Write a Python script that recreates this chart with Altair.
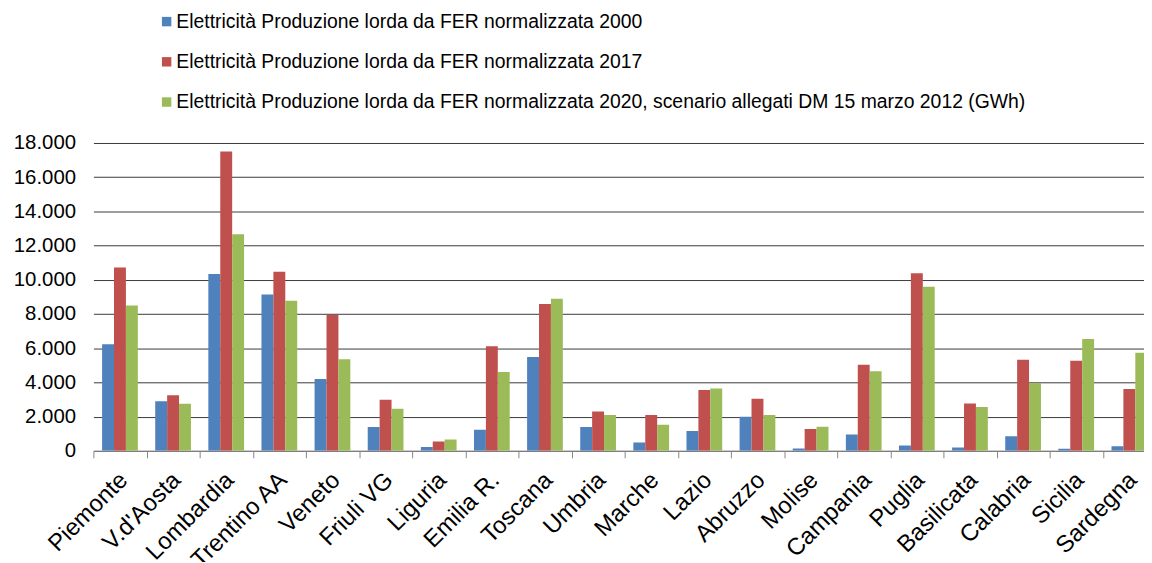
import altair as alt
import pandas as pd

regions = ["Piemonte", "V.d'Aosta", "Lombardia", "Trentino AA", "Veneto", "Friuli VG",
           "Liguria", "Emilia R.", "Toscana", "Umbria", "Marche", "Lazio", "Abruzzo",
           "Molise", "Campania", "Puglia", "Basilicata", "Calabria", "Sicilia", "Sardegna"]

series_names = [
    "Elettricità Produzione lorda da FER normalizzata 2000",
    "Elettricità Produzione lorda da FER normalizzata 2017",
    "Elettricità Produzione lorda da FER normalizzata 2020, scenario allegati DM 15 marzo 2012 (GWh)",
]

v2000 = [6230, 2900, 10340, 9140, 4200, 1390, 230, 1230, 5480, 1390, 480, 1160, 1990,
         140, 950, 310, 190, 850, 120, 270]
v2017 = [10720, 3250, 17500, 10470, 7940, 2980, 540, 6120, 8590, 2300, 2090, 3560, 3040,
         1280, 5030, 10390, 2770, 5320, 5270, 3620]
v2020 = [8500, 2750, 12660, 8770, 5360, 2460, 660, 4610, 8900, 2090, 1530, 3640, 2090,
         1410, 4650, 9600, 2570, 3970, 6540, 5730]

colors = ["#4F81BD", "#C0504D", "#9BBB59"]

rows = []
for name, vals in zip(series_names, [v2000, v2017, v2020]):
    for r, v in zip(regions, vals):
        rows.append({"region": r, "series": name, "value": v})
df = pd.DataFrame(rows)

FONT = "Liberation Sans"

chart = alt.Chart(df).mark_bar(clip=True).encode(
    x=alt.X("region:N", sort=regions, title=None,
            scale=alt.Scale(range=[0, 1070], paddingInner=0, paddingOuter=0),
            axis=alt.Axis(labelAngle=-45, labelAlign="right", labelBaseline="top",
                          labelFontSize=24, labelFont=FONT, labelColor="#000000",
                          labelPadding=10, labelOffset=-5, tickBand="extent", ticks=True,
                          tickSize=7, tickColor="#868686", domainColor="#868686", grid=False,
                          labelOverlap=False)),
    xOffset=alt.XOffset("series:N", sort=series_names,
                        scale=alt.Scale(paddingInner=0, paddingOuter=0.73)),
    y=alt.Y("value:Q", title=None,
            scale=alt.Scale(domain=[0, 18000], nice=False),
            axis=alt.Axis(values=list(range(0, 18001, 2000)), domain=False, ticks=False,
                          labelExpr="replace(format(datum.value, ','), ',', '.')",
                          labelFontSize=20.5, labelFont=FONT, labelColor="#000000",
                          labelPadding=18, gridColor="#3a3a3a", gridWidth=1)),
    color=alt.Color("series:N", sort=series_names,
                    scale=alt.Scale(domain=series_names, range=colors),
                    legend=alt.Legend(title=None, orient="none", legendX=64, legendY=-132,
                                      direction="vertical", symbolType="square",
                                      symbolSize=90, symbolStrokeWidth=0,
                                      labelFontSize=19.5, labelFont=FONT, labelColor="#000000",
                                      labelLimit=1100, rowPadding=19.5, labelOffset=0)),
).properties(
    width=1058, height=310,
    autosize=alt.AutoSizeParams(type="none"),
    padding={"left": 86, "top": 134, "right": 0, "bottom": 110},
).configure_view(stroke=None)

chart.save("out.html", embed_options={"renderer": "svg", "actions": False})
